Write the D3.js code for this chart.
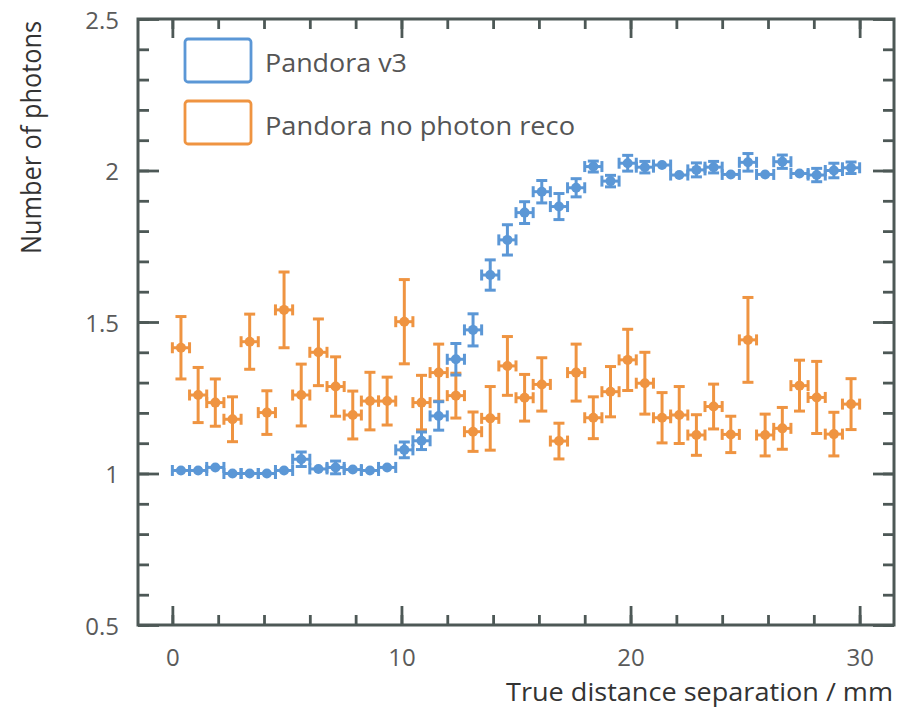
<!DOCTYPE html>
<html><head><meta charset="utf-8">
<script src="https://cdn.jsdelivr.net/npm/d3@7"></script>
<style>body{margin:0;background:#fff}svg{display:block}text{font-family:"Open Sans","Noto Sans",sans-serif}</style>
</head><body><svg id="c" width="898" height="709"></svg>
<script>
const binCenters = d3.range(40).map(i => 0.375 + 0.75 * i);
const binHalfWidth = 0.375;
const v3Values = [1.01,1.01,1.02,1.0,1.0,1.0,1.01,1.047,1.015,1.02,1.013,1.01,1.02,1.078,1.108,1.19,1.377,1.474,1.655,1.771,1.861,1.93,1.881,1.943,2.013,1.965,2.024,2.011,2.018,1.985,2.002,2.011,1.987,2.027,1.987,2.029,1.99,1.985,2.0,2.009];
const v3Errors = [0.004,0.004,0.004,0.004,0.004,0.004,0.004,0.024,0.004,0.021,0.004,0.004,0.004,0.026,0.029,0.047,0.052,0.053,0.05,0.05,0.036,0.037,0.043,0.03,0.018,0.019,0.026,0.019,0.004,0.004,0.023,0.019,0.004,0.029,0.004,0.022,0.004,0.022,0.024,0.019];
const noRecoValues = [1.415,1.259,1.234,1.179,1.435,1.201,1.54,1.259,1.4,1.287,1.193,1.239,1.239,1.501,1.234,1.333,1.257,1.138,1.182,1.355,1.25,1.294,1.107,1.333,1.184,1.27,1.375,1.298,1.184,1.193,1.127,1.221,1.129,1.441,1.127,1.149,1.29,1.251,1.13,1.229];
const noRecoErrors = [0.103,0.091,0.078,0.074,0.091,0.072,0.125,0.102,0.11,0.098,0.079,0.095,0.079,0.139,0.09,0.094,0.074,0.065,0.105,0.097,0.077,0.088,0.059,0.094,0.069,0.083,0.101,0.102,0.083,0.094,0.067,0.074,0.06,0.14,0.069,0.069,0.084,0.119,0.072,0.084];
const seriesNames = ["Pandora v3", "Pandora no photon reco"];
const seriesColors = ["#5b97d6", "#ef9441"];
const xMajorTicks = [0, 10, 20, 30];
const xMinorTicks = d3.range(0, 31, 2);
const yMajorTicks = [0.5, 1, 1.5, 2, 2.5];
const yMinorTicks = d3.range(5, 26).map(d => d / 10);
const xTitle = "True distance separation / mm";
const yTitle = "Number of photons";

const svg = d3.select("#c");
const L = 138, R = 894, T = 19, B = 625;
const x = d3.scaleLinear().domain([-1.5, 31.5]).range([L, R]);
const y = d3.scaleLinear().domain([0.5, 2.5]).range([B, T]);
const axisColor = "#4d5856";

function styleAxis(g) {
  g.select(".domain").remove();
  g.selectAll(".tick line").attr("stroke", axisColor).attr("stroke-width", 2.8);
  g.selectAll(".tick text").attr("fill", "#5a5a5a").attr("font-size", 24);
}
// bottom
svg.append("g").attr("transform", `translate(0,${B})`)
  .call(d3.axisBottom(x).tickValues(xMinorTicks).tickSize(-10).tickFormat(""))
  .call(styleAxis);
svg.append("g").attr("transform", `translate(0,${B})`)
  .call(d3.axisBottom(x).tickValues(xMajorTicks).tickSize(-19).tickPadding(24).tickFormat(d3.format("d")))
  .call(styleAxis);
// top
svg.append("g").attr("transform", `translate(0,${T})`)
  .call(d3.axisTop(x).tickValues(xMinorTicks).tickSize(-10).tickFormat("")).call(styleAxis);
svg.append("g").attr("transform", `translate(0,${T})`)
  .call(d3.axisTop(x).tickValues(xMajorTicks).tickSize(-19).tickFormat("")).call(styleAxis);
// left
svg.append("g").attr("transform", `translate(${L},0)`)
  .call(d3.axisLeft(y).tickValues(yMinorTicks).tickSize(-11).tickFormat("")).call(styleAxis);
svg.append("g").attr("transform", `translate(${L},0)`)
  .call(d3.axisLeft(y).tickValues(yMajorTicks).tickSize(-21).tickFormat(d => d3.format("")(d)))
  .call(styleAxis)
  .call(g => g.selectAll(".tick text").attr("dy", "0.38em").attr("x", -19));
// right
svg.append("g").attr("transform", `translate(${R},0)`)
  .call(d3.axisRight(y).tickValues(yMinorTicks).tickSize(-11).tickFormat("")).call(styleAxis);
svg.append("g").attr("transform", `translate(${R},0)`)
  .call(d3.axisRight(y).tickValues(yMajorTicks).tickSize(-21).tickFormat("")).call(styleAxis);
// frame
svg.append("rect").attr("x", L).attr("y", T).attr("width", R - L).attr("height", B - T)
  .attr("fill", "none").attr("stroke", axisColor).attr("stroke-width", 3);

// titles
svg.append("text").attr("x", 893).attr("y", 701).attr("text-anchor", "end")
  .attr("font-size", 26).attr("fill", "#333").attr("textLength", 387).attr("lengthAdjust", "spacingAndGlyphs").text(xTitle);
svg.append("text").attr("transform", "translate(41,21) rotate(-90)").attr("text-anchor", "end")
  .attr("font-size", 27).attr("fill", "#333").attr("textLength", 233).attr("lengthAdjust", "spacingAndGlyphs").text(yTitle);

// data
const series = [
  {name: seriesNames[0], color: seriesColors[0], vals: v3Values, errs: v3Errors, len: 142},
  {name: seriesNames[1], color: seriesColors[1], vals: noRecoValues, errs: noRecoErrors, len: 310}
];
const cap = 5.5;
series.slice().reverse().forEach(s => {
  const pts = binCenters.map((c, i) => ({c, v: s.vals[i], e: s.errs[i]}));
  const g = svg.append("g").attr("stroke", s.color).attr("stroke-width", 3).attr("fill", s.color);
  const p = g.selectAll("g").data(pts).join("g");
  p.append("line").attr("x1", d => x(d.c - binHalfWidth)).attr("x2", d => x(d.c + binHalfWidth))
    .attr("y1", d => y(d.v)).attr("y2", d => y(d.v));
  p.append("line").attr("x1", d => x(d.c - binHalfWidth)).attr("x2", d => x(d.c - binHalfWidth))
    .attr("y1", d => y(d.v) - cap).attr("y2", d => y(d.v) + cap);
  p.append("line").attr("x1", d => x(d.c + binHalfWidth)).attr("x2", d => x(d.c + binHalfWidth))
    .attr("y1", d => y(d.v) - cap).attr("y2", d => y(d.v) + cap);
  const big = p.filter(d => d.e > 0.01);
  big.append("line").attr("x1", d => x(d.c)).attr("x2", d => x(d.c))
    .attr("y1", d => y(d.v - d.e)).attr("y2", d => y(d.v + d.e));
  big.append("line").attr("x1", d => x(d.c) - cap).attr("x2", d => x(d.c) + cap)
    .attr("y1", d => y(d.v + d.e)).attr("y2", d => y(d.v + d.e));
  big.append("line").attr("x1", d => x(d.c) - cap).attr("x2", d => x(d.c) + cap)
    .attr("y1", d => y(d.v - d.e)).attr("y2", d => y(d.v - d.e));
  p.append("circle").attr("cx", d => x(d.c)).attr("cy", d => y(d.v)).attr("r", 5).attr("stroke", "none");
});

// legend
const leg = svg.append("g");
series.forEach((s, i) => {
  leg.append("rect").attr("x", 185).attr("y", 39 + i * 62).attr("width", 66).attr("height", 43).attr("rx", 3)
    .attr("fill", "none").attr("stroke", s.color).attr("stroke-width", 2.8);
  leg.append("text").attr("x", 265).attr("y", 72 + i * 63).attr("font-size", 26).attr("fill", "#555")
    .attr("textLength", s.len).attr("lengthAdjust", "spacingAndGlyphs").text(s.name);
});
</script></body></html>
